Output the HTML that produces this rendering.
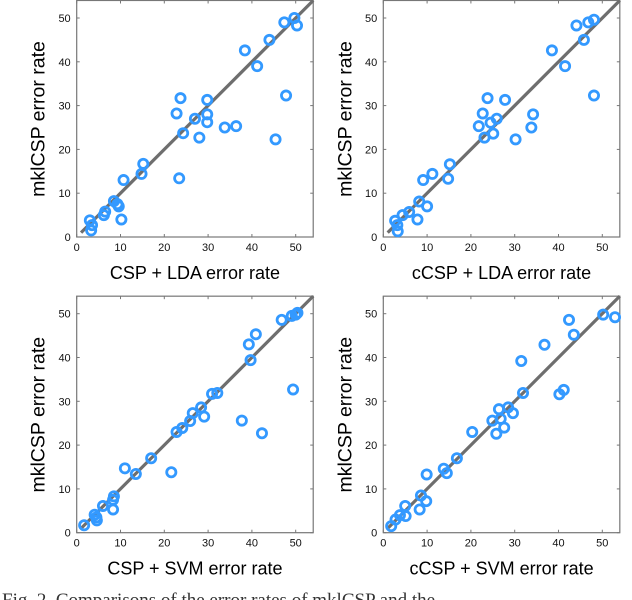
<!DOCTYPE html>
<html><head><meta charset="utf-8"><style>
body{margin:0;background:#fff;width:632px;height:600px;overflow:hidden;font-family:"Liberation Sans",sans-serif}
svg{position:absolute;left:0;top:0}
</style></head><body>
<svg id="fig" width="632" height="600"></svg>
<script>
const ticks=[0,10,20,30,40,50];
const p1x=[3,3.3,3.5,6.2,6.5,8.5,9.3,9.6,10.2,10.7,14.8,15.2,22.8,23.7,23.4,24.3,27,28,29.8,29.8,29.8,33.8,36.4,38.4,41.2,44,45.4,47.4,47.8,49.7,50.3];
const p1y=[3.8,1.5,2.7,5,5.8,8.2,7.5,7,4,13,14.4,16.7,28.2,31.7,13.4,23.7,27,22.7,28,26.2,31.3,25,25.3,42.6,39,45,22.3,49,32.3,50,48.3];
const p2x=[2.7,3.2,3.3,4.4,5.9,7.8,8.2,9.1,10,11.2,14.8,15.2,21.8,22.7,23.1,23.8,24.5,25.1,25.9,27.8,30.2,33.8,34.2,38.5,41.5,44.1,45.8,46.8,48.1,48.1];
const p2y=[3.7,2.7,1.3,5,5.7,4,8.1,13,7,14.4,13.3,16.6,25.3,28.2,22.7,31.7,26.1,23.6,27,31.3,22.3,25,28,42.6,39,48.3,45,49,49.6,32.3];
const p3x=[1.7,4.1,4.5,4.6,6,8.3,8.3,8.5,11,13.5,17,21.6,22.8,24.1,25.9,26.5,28.4,29.1,30.9,32.1,37.7,39.3,39.7,40.9,42.3,46.8,49.1,49.4,50,50.4];
const p3y=[1.7,4.1,3.5,2.8,6.1,5.3,7.5,8.3,14.7,13.4,17,13.8,23,23.9,25.5,27.3,28.6,26.5,31.7,31.9,25.6,43,39.4,45.3,22.7,48.6,49.5,32.7,49.8,50.2];
const p4x=[1.8,2.8,3.8,5,5.1,8.3,8.6,9.8,9.9,13.8,14.5,16.8,20.3,24.9,25.8,26.4,26.8,27.6,28.5,29.6,31.5,31.9,36.8,40.2,41.2,42.4,43.5,50.2,52.9];
const p4y=[1.5,3,4,6.1,3.8,5.3,8.5,7.2,13.3,14.6,13.6,17,23,25.6,22.6,28.2,26,24,28.6,27.3,39.2,31.9,42.9,31.6,32.6,48.6,45.2,49.8,49.2];
const xlabels=["CSP + LDA error rate","cCSP + LDA error rate","CSP + SVM error rate","cCSP + SVM error rate"];
const NS="http://www.w3.org/2000/svg";
const svg=document.getElementById('fig');
function mk(t,a,par){const e=document.createElementNS(NS,t);for(const k in a)e.setAttribute(k,a[k]);(par||svg).appendChild(e);return e;}
const panels=[{x0:76.7,y0:237,xs:p1x,ys:p1y},{x0:383.3,y0:237,xs:p2x,ys:p2y},{x0:76.7,y0:532.7,xs:p3x,ys:p3y},{x0:383.3,y0:532.7,xs:p4x,ys:p4y}];
const S=4.38,MAX=54;
panels.forEach((p,i)=>{
  const g=mk('g',{});
  
  
  const X=v=>p.x0+v*S, Y=v=>p.y0-v*S;
  const box=mk('rect',{x:X(0),y:Y(MAX),width:MAX*S,height:MAX*S,fill:'none',stroke:'#777','stroke-width':1.2},g);
  
  
  ticks.forEach(t=>{
    mk('line',{x1:X(t),x2:X(t),y1:Y(0),y2:Y(0)-3,stroke:'#777'},g);
    mk('line',{x1:X(t),x2:X(t),y1:Y(MAX),y2:Y(MAX)+3,stroke:'#777'},g);
    mk('line',{x1:X(0),x2:X(0)+3,y1:Y(t),y2:Y(t),stroke:'#777'},g);
    mk('line',{x1:X(MAX),x2:X(MAX)-3,y1:Y(t),y2:Y(t),stroke:'#777'},g);
    const tx=mk('text',{x:X(t),y:Y(0)+14,'font-size':11,'text-anchor':'middle',fill:'#111'},g);tx.textContent=t;
    
    
    const ty=mk('text',{x:X(0)-6,y:Y(t)+4,'font-size':11,'text-anchor':'end',fill:'#111'},g);ty.textContent=t;
    
    
  });
  const ln=mk('line',{x1:X(1),y1:Y(1),x2:X(MAX),y2:Y(MAX),stroke:'#6e6e6e','stroke-width':3.2},g);
  
  
  p.xs.forEach((v,j)=>{
    const c=mk('circle',{cx:X(v),cy:Y(p.ys[j]),r:4.6,fill:'none',stroke:'#3399ff','stroke-width':2.8},g);
    
    
  });
  const xl=mk('text',{x:X(27),y:p.y0+42,'font-size':18,'text-anchor':'middle',fill:'#000'},g);
  xl.textContent=xlabels[i];
  
  
  const yx=p.x0-32, yy=p.y0-118;
  const yl=mk('text',{x:yx,y:yy,'font-size':19.5,'text-anchor':'middle',fill:'#000',transform:`rotate(-90 ${yx} ${yy})`},g);
  yl.textContent='mklCSP error rate';
  
  
});
const cap=mk('text',{x:2,y:606,'font-size':19,'font-family':'Liberation Serif, serif',fill:'#333'});
cap.textContent='Fig. 2.  Comparisons of the error rates of mklCSP and the';


</script>
</body></html>
